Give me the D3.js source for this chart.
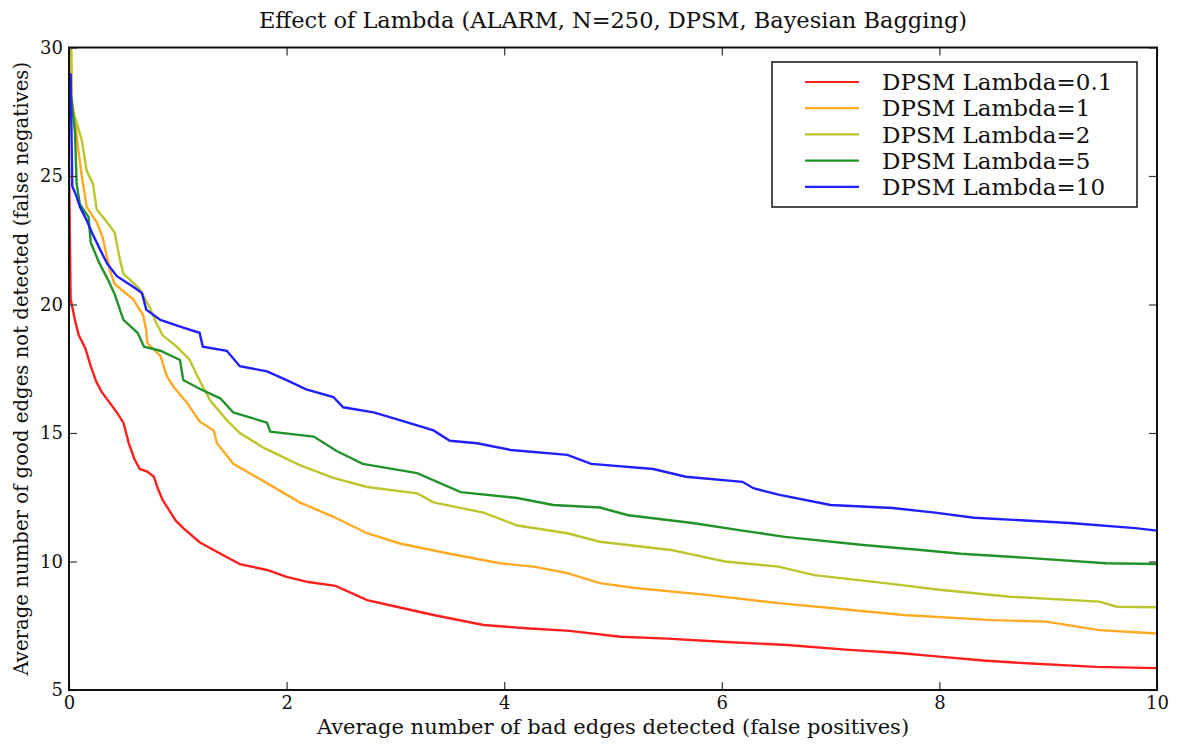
<!DOCTYPE html>
<html>
<head>
<meta charset="utf-8">
<script src="https://cdn.jsdelivr.net/npm/d3@7"></script>
<style>
  body { margin: 0; background: #fff; }
  text { font-family: "DejaVu Serif", serif; fill: #111; }
</style>
</head>
<body>
<svg id="chart" width="1179" height="744"></svg>
<script>
// series: [falsePositives, falseNegatives]
const lambda01 = [[0,25.4],[0.015,20.2],[0.03,19.9],[0.06,19.3],[0.09,18.8],[0.15,18.3],[0.2,17.6],[0.25,17.0],[0.3,16.6],[0.37,16.2],[0.44,15.8],[0.5,15.4],[0.55,14.6],[0.6,14.0],[0.65,13.6],[0.72,13.5],[0.78,13.3],[0.82,12.8],[0.86,12.4],[0.92,12.0],[0.98,11.6],[1.05,11.3],[1.2,10.75],[1.35,10.4],[1.57,9.9],[1.82,9.67],[2.0,9.4],[2.2,9.2],[2.45,9.05],[2.74,8.5],[3.0,8.25],[3.35,7.92],[3.81,7.53],[4.2,7.4],[4.6,7.3],[5.07,7.07],[5.5,7.0],[6.0,6.88],[6.6,6.75],[7.17,6.56],[7.6,6.45],[8.0,6.3],[8.4,6.15],[8.8,6.04],[9.44,5.9],[10,5.85]];
const lambda1 = [[0.02,29.9],[0.025,28.0],[0.055,27.2],[0.083,26.1],[0.117,25.0],[0.163,23.8],[0.255,23.2],[0.31,22.6],[0.377,21.3],[0.42,20.8],[0.59,20.2],[0.68,19.6],[0.71,19.0],[0.72,18.5],[0.84,18.0],[0.9,17.2],[0.96,16.8],[1.08,16.2],[1.2,15.45],[1.33,15.1],[1.36,14.6],[1.51,13.8],[1.82,13.05],[2.12,12.3],[2.43,11.74],[2.74,11.1],[3.04,10.7],[3.5,10.3],[3.96,9.93],[4.27,9.8],[4.58,9.55],[4.88,9.16],[5.2,8.97],[5.86,8.7],[6.52,8.38],[7.0,8.19],[7.67,7.92],[8.49,7.72],[8.98,7.66],[9.47,7.33],[10,7.2]];
const lambda2 = [[0.02,30],[0.025,27.5],[0.055,27.3],[0.117,26.4],[0.163,25.2],[0.22,24.7],[0.255,23.7],[0.35,23.2],[0.42,22.8],[0.47,21.7],[0.5,21.2],[0.65,20.6],[0.74,19.9],[0.8,19.3],[0.86,18.8],[0.99,18.36],[1.11,17.84],[1.17,17.3],[1.23,16.8],[1.3,16.25],[1.45,15.5],[1.57,15.0],[1.8,14.4],[2.12,13.75],[2.43,13.25],[2.74,12.9],[3.2,12.65],[3.35,12.3],[3.81,11.9],[4.12,11.4],[4.58,11.1],[4.88,10.77],[5.53,10.45],[6.03,10.0],[6.52,9.8],[6.85,9.47],[7.5,9.16],[8.0,8.9],[8.65,8.63],[9.47,8.44],[9.63,8.24],[10,8.22]];
const lambda5 = [[0.02,28.1],[0.055,26.7],[0.07,24.7],[0.1,23.9],[0.18,23.4],[0.2,22.4],[0.28,21.6],[0.36,20.95],[0.42,20.4],[0.5,19.4],[0.63,18.9],[0.69,18.36],[0.84,18.2],[1.02,17.84],[1.05,17.06],[1.2,16.72],[1.39,16.35],[1.51,15.8],[1.82,15.4],[1.85,15.05],[2.25,14.86],[2.46,14.3],[2.7,13.8],[3.2,13.44],[3.6,12.7],[4.12,12.47],[4.45,12.2],[4.88,12.1],[5.14,11.8],[5.73,11.5],[6.19,11.2],[6.58,10.96],[7.3,10.64],[7.83,10.45],[8.2,10.3],[8.81,10.14],[9.53,9.93],[10,9.9]];
const lambda10 = [[0.015,29.0],[0.03,24.6],[0.07,24.2],[0.1,23.8],[0.16,23.3],[0.21,22.8],[0.29,22.1],[0.35,21.6],[0.44,21.1],[0.62,20.6],[0.67,20.45],[0.71,19.8],[0.84,19.4],[1.05,19.1],[1.2,18.9],[1.23,18.36],[1.45,18.2],[1.57,17.6],[1.82,17.4],[2.0,17.06],[2.18,16.7],[2.43,16.4],[2.52,16.0],[2.8,15.8],[3.04,15.5],[3.35,15.1],[3.5,14.7],[3.75,14.6],[4.06,14.34],[4.58,14.15],[4.8,13.8],[5.37,13.6],[5.67,13.3],[6.19,13.1],[6.29,12.85],[6.52,12.6],[7.0,12.2],[7.57,12.08],[7.96,11.9],[8.32,11.7],[9.2,11.5],[9.8,11.3],[10,11.2]];

const seriesNames = ["DPSM Lambda=0.1", "DPSM Lambda=1", "DPSM Lambda=2", "DPSM Lambda=5", "DPSM Lambda=10"];
const seriesValues = [lambda01, lambda1, lambda2, lambda5, lambda10];
const seriesColors = ["#ff1f1f", "#ffaa22", "#bcc62c", "#23922b", "#1f1fff"];
const xTicks = [0, 2, 4, 6, 8, 10];
const yTicks = [5, 10, 15, 20, 25, 30];

const svg = d3.select("#chart");
const margin = { top: 47.5, right: 22, bottom: 54, left: 69 };
const width = 1179 - margin.left - margin.right;
const height = 744 - margin.top - margin.bottom;

const x = d3.scaleLinear().domain([0, 10]).range([0, width]);
const y = d3.scaleLinear().domain([5, 30]).range([height, 0]);

const g = svg.append("g").attr("transform", `translate(${margin.left},${margin.top})`);

// clip so lines stay inside the frame
g.append("clipPath").attr("id", "plotClip")
  .append("rect").attr("width", width).attr("height", height);

const line = d3.line().x(d => x(d[0])).y(d => y(d[1]));

g.append("g").attr("clip-path", "url(#plotClip)")
  .selectAll("path")
  .data(seriesValues)
  .join("path")
  .attr("d", line)
  .attr("fill", "none")
  .attr("stroke", (d, i) => seriesColors[i])
  .attr("stroke-width", 2.4)
  .attr("stroke-linejoin", "miter");

// axes, ticks pointing inward like the classic matplotlib look
const styleAxis = sel => {
  sel.select(".domain").remove();
  sel.selectAll(".tick line").attr("stroke", "#333").attr("stroke-width", 1.2);
  sel.selectAll("text").style("font-size", "18px").attr("fill", "#111");
};

g.append("g").attr("transform", `translate(0,${height})`)
  .call(d3.axisBottom(x).tickValues(xTicks).tickSize(-8).tickPadding(6).tickFormat(d3.format("d")))
  .call(styleAxis);
g.append("g")
  .call(d3.axisTop(x).tickValues(xTicks).tickSize(-8).tickFormat(""))
  .call(styleAxis);
g.append("g")
  .call(d3.axisLeft(y).tickValues(yTicks).tickSize(-8).tickPadding(6).tickFormat(d3.format("d")))
  .call(styleAxis);
g.append("g").attr("transform", `translate(${width},0)`)
  .call(d3.axisRight(y).tickValues(yTicks).tickSize(-8).tickFormat(""))
  .call(styleAxis);

// frame
g.append("rect")
  .attr("width", width).attr("height", height)
  .attr("fill", "none").attr("stroke", "#111").attr("stroke-width", 2);

// title and axis labels
svg.append("text")
  .attr("x", margin.left + width / 2).attr("y", 28)
  .attr("text-anchor", "middle")
  .style("font-size", "22.5px")
  .text("Effect of Lambda (ALARM, N=250, DPSM, Bayesian Bagging)");

svg.append("text")
  .attr("x", margin.left + width / 2).attr("y", 734)
  .attr("text-anchor", "middle")
  .style("font-size", "21px")
  .text("Average number of bad edges detected (false positives)");

svg.append("text")
  .attr("transform", `translate(28,${margin.top + height / 2}) rotate(-90)`)
  .attr("text-anchor", "middle")
  .style("font-size", "19.7px")
  .text("Average number of good edges not detected (false negatives)");

// legend
const legend = svg.append("g").attr("transform", "translate(772,62)");
legend.append("rect")
  .attr("width", 365).attr("height", 145)
  .attr("fill", "#fff").attr("stroke", "#111").attr("stroke-width", 1.5);

const rows = legend.selectAll("g.row")
  .data(seriesNames)
  .join("g")
  .attr("class", "row")
  .attr("transform", (d, i) => `translate(0,${20 + i * 26.2})`);

rows.append("line")
  .attr("x1", 33).attr("x2", 87)
  .attr("stroke", (d, i) => seriesColors[i])
  .attr("stroke-width", 2.2);

rows.append("text")
  .attr("x", 110).attr("dy", "0.36em")
  .style("font-size", "23px")
  .text(d => d);
</script>
</body>
</html>
